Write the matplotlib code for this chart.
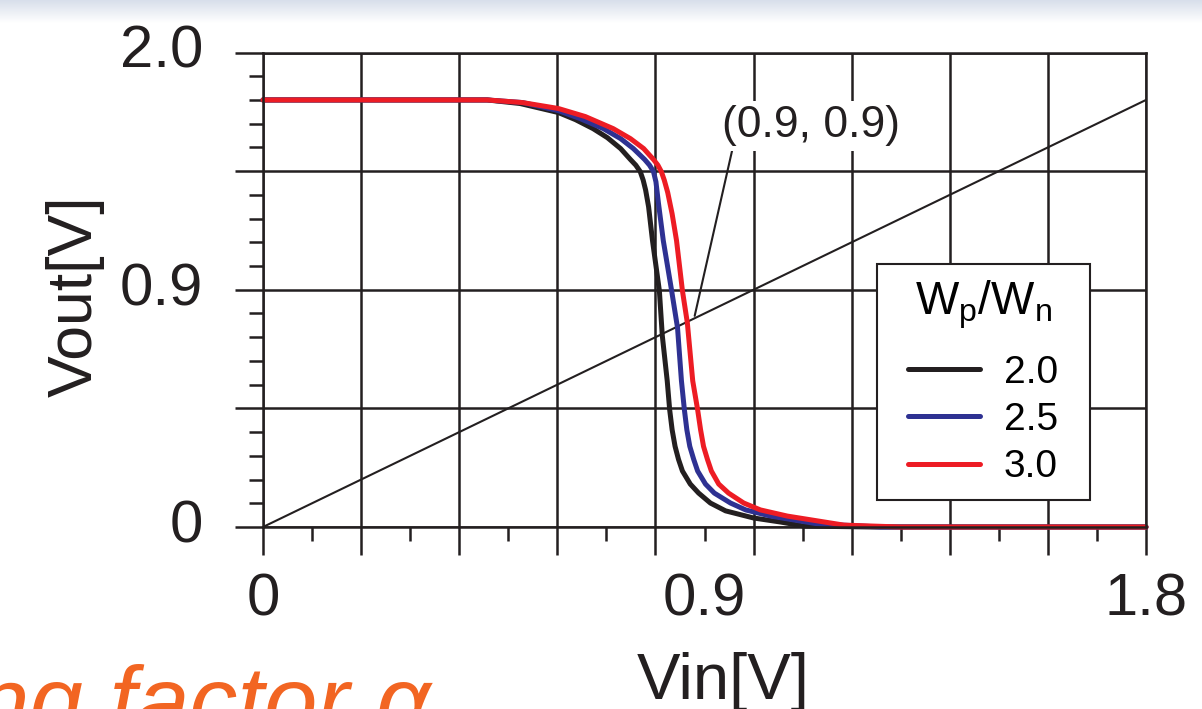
import matplotlib
matplotlib.use("Agg")
import matplotlib.pyplot as plt
from matplotlib.patches import Rectangle
import numpy as np

plt.rcParams["font.family"] = ["Liberation Sans", "DejaVu Sans"]
plt.rcParams["mathtext.fontset"] = "custom"
plt.rcParams["mathtext.rm"] = "Liberation Sans"
plt.rcParams["mathtext.it"] = "Liberation Sans:italic"

# Wp/Wn = 2.0
vin_20 = [0.0, 0.457, 0.524, 0.602, 0.637, 0.673, 0.702, 0.729, 0.749, 0.760, 0.769, 0.775,
          0.780, 0.786, 0.794, 0.808, 0.814, 0.824, 0.829, 0.834, 0.840, 0.847, 0.855, 0.871,
          0.888, 0.912, 0.943, 1.000, 1.055, 1.102, 1.24, 1.80]
vout_20 = [1.80, 1.80, 1.785, 1.747, 1.717, 1.679, 1.641, 1.595, 1.549, 1.525, 1.498, 1.462,
           1.420, 1.350, 1.207, 0.996, 0.806, 0.616, 0.494, 0.410, 0.340, 0.285, 0.236, 0.181,
           0.143, 0.101, 0.068, 0.038, 0.021, 0.004, 0.0, 0.0]
# Wp/Wn = 2.5
vin_25 = [0.0, 0.457, 0.529, 0.602, 0.647, 0.694, 0.729, 0.755, 0.778, 0.788, 0.796, 0.801,
          0.806, 0.816, 0.833, 0.845, 0.853, 0.859, 0.864, 0.870, 0.878, 0.886, 0.902, 0.920,
          0.953, 0.984, 1.035, 1.131, 1.259, 1.80]
vout_25 = [1.80, 1.80, 1.789, 1.755, 1.721, 1.679, 1.637, 1.595, 1.549, 1.525, 1.498, 1.455,
           1.367, 1.207, 0.996, 0.840, 0.616, 0.494, 0.410, 0.340, 0.285, 0.236, 0.181, 0.143,
           0.101, 0.072, 0.046, 0.013, 0.0, 0.0]
# Wp/Wn = 3.0
vin_30 = [0.0, 0.457, 0.529, 0.602, 0.657, 0.714, 0.749, 0.776, 0.796, 0.805, 0.812, 0.818,
          0.825, 0.834, 0.843, 0.855, 0.865, 0.876, 0.886, 0.892, 0.898, 0.906, 0.914, 0.929,
          0.949, 0.980, 1.014, 1.069, 1.184, 1.30, 1.80]
vout_30 = [1.80, 1.80, 1.789, 1.764, 1.730, 1.679, 1.637, 1.595, 1.549, 1.525, 1.498, 1.462,
           1.410, 1.320, 1.207, 0.996, 0.861, 0.616, 0.494, 0.410, 0.340, 0.285, 0.236, 0.181,
           0.143, 0.101, 0.072, 0.046, 0.008, 0.0, 0.0]

ratios = ["2.0", "2.5", "3.0"]
colors = ["#231f20", "#2e3192", "#ed1c24"]

diag_v = [0.0, 1.8]
x_label_pos = [0.0, 0.9, 1.8]
x_labels = ["0", "0.9", "1.8"]
y_label_pos = [0.0, 1.0, 2.0]
y_labels = ["0", "0.9", "2.0"]

W, H = 1202, 709
fig = plt.figure(figsize=(W / 100, H / 100), dpi=100)

# slide header band
band = fig.add_axes([0, 1 - 23 / H, 1, 23 / H])
grad = np.linspace(0, 1, 50)[:, None]
band.imshow(grad, aspect="auto", cmap=matplotlib.colors.LinearSegmentedColormap.from_list(
    "band", ["#d8dfeb", "#ffffff"]), extent=[0, 1, 0, 1])
band.axis("off")

ax = fig.add_axes([263 / W, 1 - 527 / H, 883 / W, 474.5 / H])
ax.set_xlim(0, 1.8)
ax.set_ylim(0, 2.0)

lw_grid = 1.8
ax.set_xticks(np.arange(0, 1.81, 0.2))
ax.set_xticks(np.arange(0.1, 1.8, 0.2), minor=True)
ax.set_yticks(np.arange(0, 2.01, 0.5))
ax.set_yticks(np.arange(0, 2.01, 0.1), minor=True)
ax.tick_params(which="major", direction="out", length=20, width=lw_grid, color="#231f20",
               labelbottom=False, labelleft=False)
ax.tick_params(which="minor", direction="out", length=10, width=lw_grid, color="#231f20")
ax.grid(True, which="major", color="#231f20", linewidth=lw_grid)
for s in ax.spines.values():
    s.set_linewidth(lw_grid)
    s.set_color("#231f20")

# tick labels (placed off the grid ticks, as in the original)
for v, t in zip(x_label_pos, x_labels):
    ax.text(v, -0.095, t, transform=ax.get_xaxis_transform(), ha="center", va="top",
            fontsize=43, color="#231f20")
for v, t in zip(y_label_pos, y_labels):
    ax.text(-0.068, v, t, transform=ax.get_yaxis_transform(), ha="right", va="center",
            fontsize=43, color="#231f20")

ax.plot(diag_v, diag_v, color="#231f20", linewidth=1.5)

for vin, vout, r, c in zip([vin_20, vin_25, vin_30], [vout_20, vout_25, vout_30], ratios, colors):
    ax.plot(vin, vout, color=c, linewidth=3.6, label=r, solid_joinstyle="round",
            solid_capstyle="round", clip_on=False)

ax.annotate("(0.9, 0.9)", xy=(0.880, 0.890), xytext=(1.118, 1.692), ha="center", va="center",
            fontsize=32, color="#231f20",
            bbox=dict(boxstyle="square,pad=0.1", fc="white", ec="none"),
            arrowprops=dict(arrowstyle="-", color="#231f20", lw=1.5, relpos=(0.06, 0.0),
                            shrinkA=0, shrinkB=0))

# legend: drawn frameless, then boxed with extra side padding like the original
pad_x = 17 / 883
leg = ax.legend(title=r"W$_\mathrm{p}$/W$_\mathrm{n}$", loc="upper left",
                bbox_to_anchor=(0.695 + pad_x, 0.555), borderaxespad=0, fontsize=28,
                title_fontsize=33, frameon=False,
                handlelength=1.85, handletextpad=0.6, labelspacing=0.29, borderpad=0.38)
leg._legend_box.sep = 0.29 * 28 + 9  # extra gap below the title
leg.set_zorder(6)
for line in leg.get_lines():
    line.set_linewidth(3.6)

fig.canvas.draw()
bb = leg.get_window_extent().transformed(ax.transAxes.inverted())
ax.add_patch(Rectangle((bb.x0 - pad_x, bb.y0), bb.width + 2 * pad_x, bb.height,
                       transform=ax.transAxes, facecolor="white", edgecolor="#231f20",
                       linewidth=1.5, zorder=5, clip_on=False))

ax.set_xlabel("Vin[V]", fontsize=47, color="#231f20")
ax.xaxis.set_label_coords(0.521, -0.363)
ax.xaxis.label.set_verticalalignment("baseline")
ax.set_ylabel("Vout[V]", fontsize=45, color="#231f20")
ax.yaxis.set_label_coords(-0.213, 0.487)
ax.yaxis.label.set_verticalalignment("center")

# slide text cut off at the bottom-left
fig.text(-0.02, -0.035, "ng factor \u03b1", fontsize=69, style="italic", color="#f26522",
         ha="left", va="baseline")

fig.savefig("out.png", dpi=100)
